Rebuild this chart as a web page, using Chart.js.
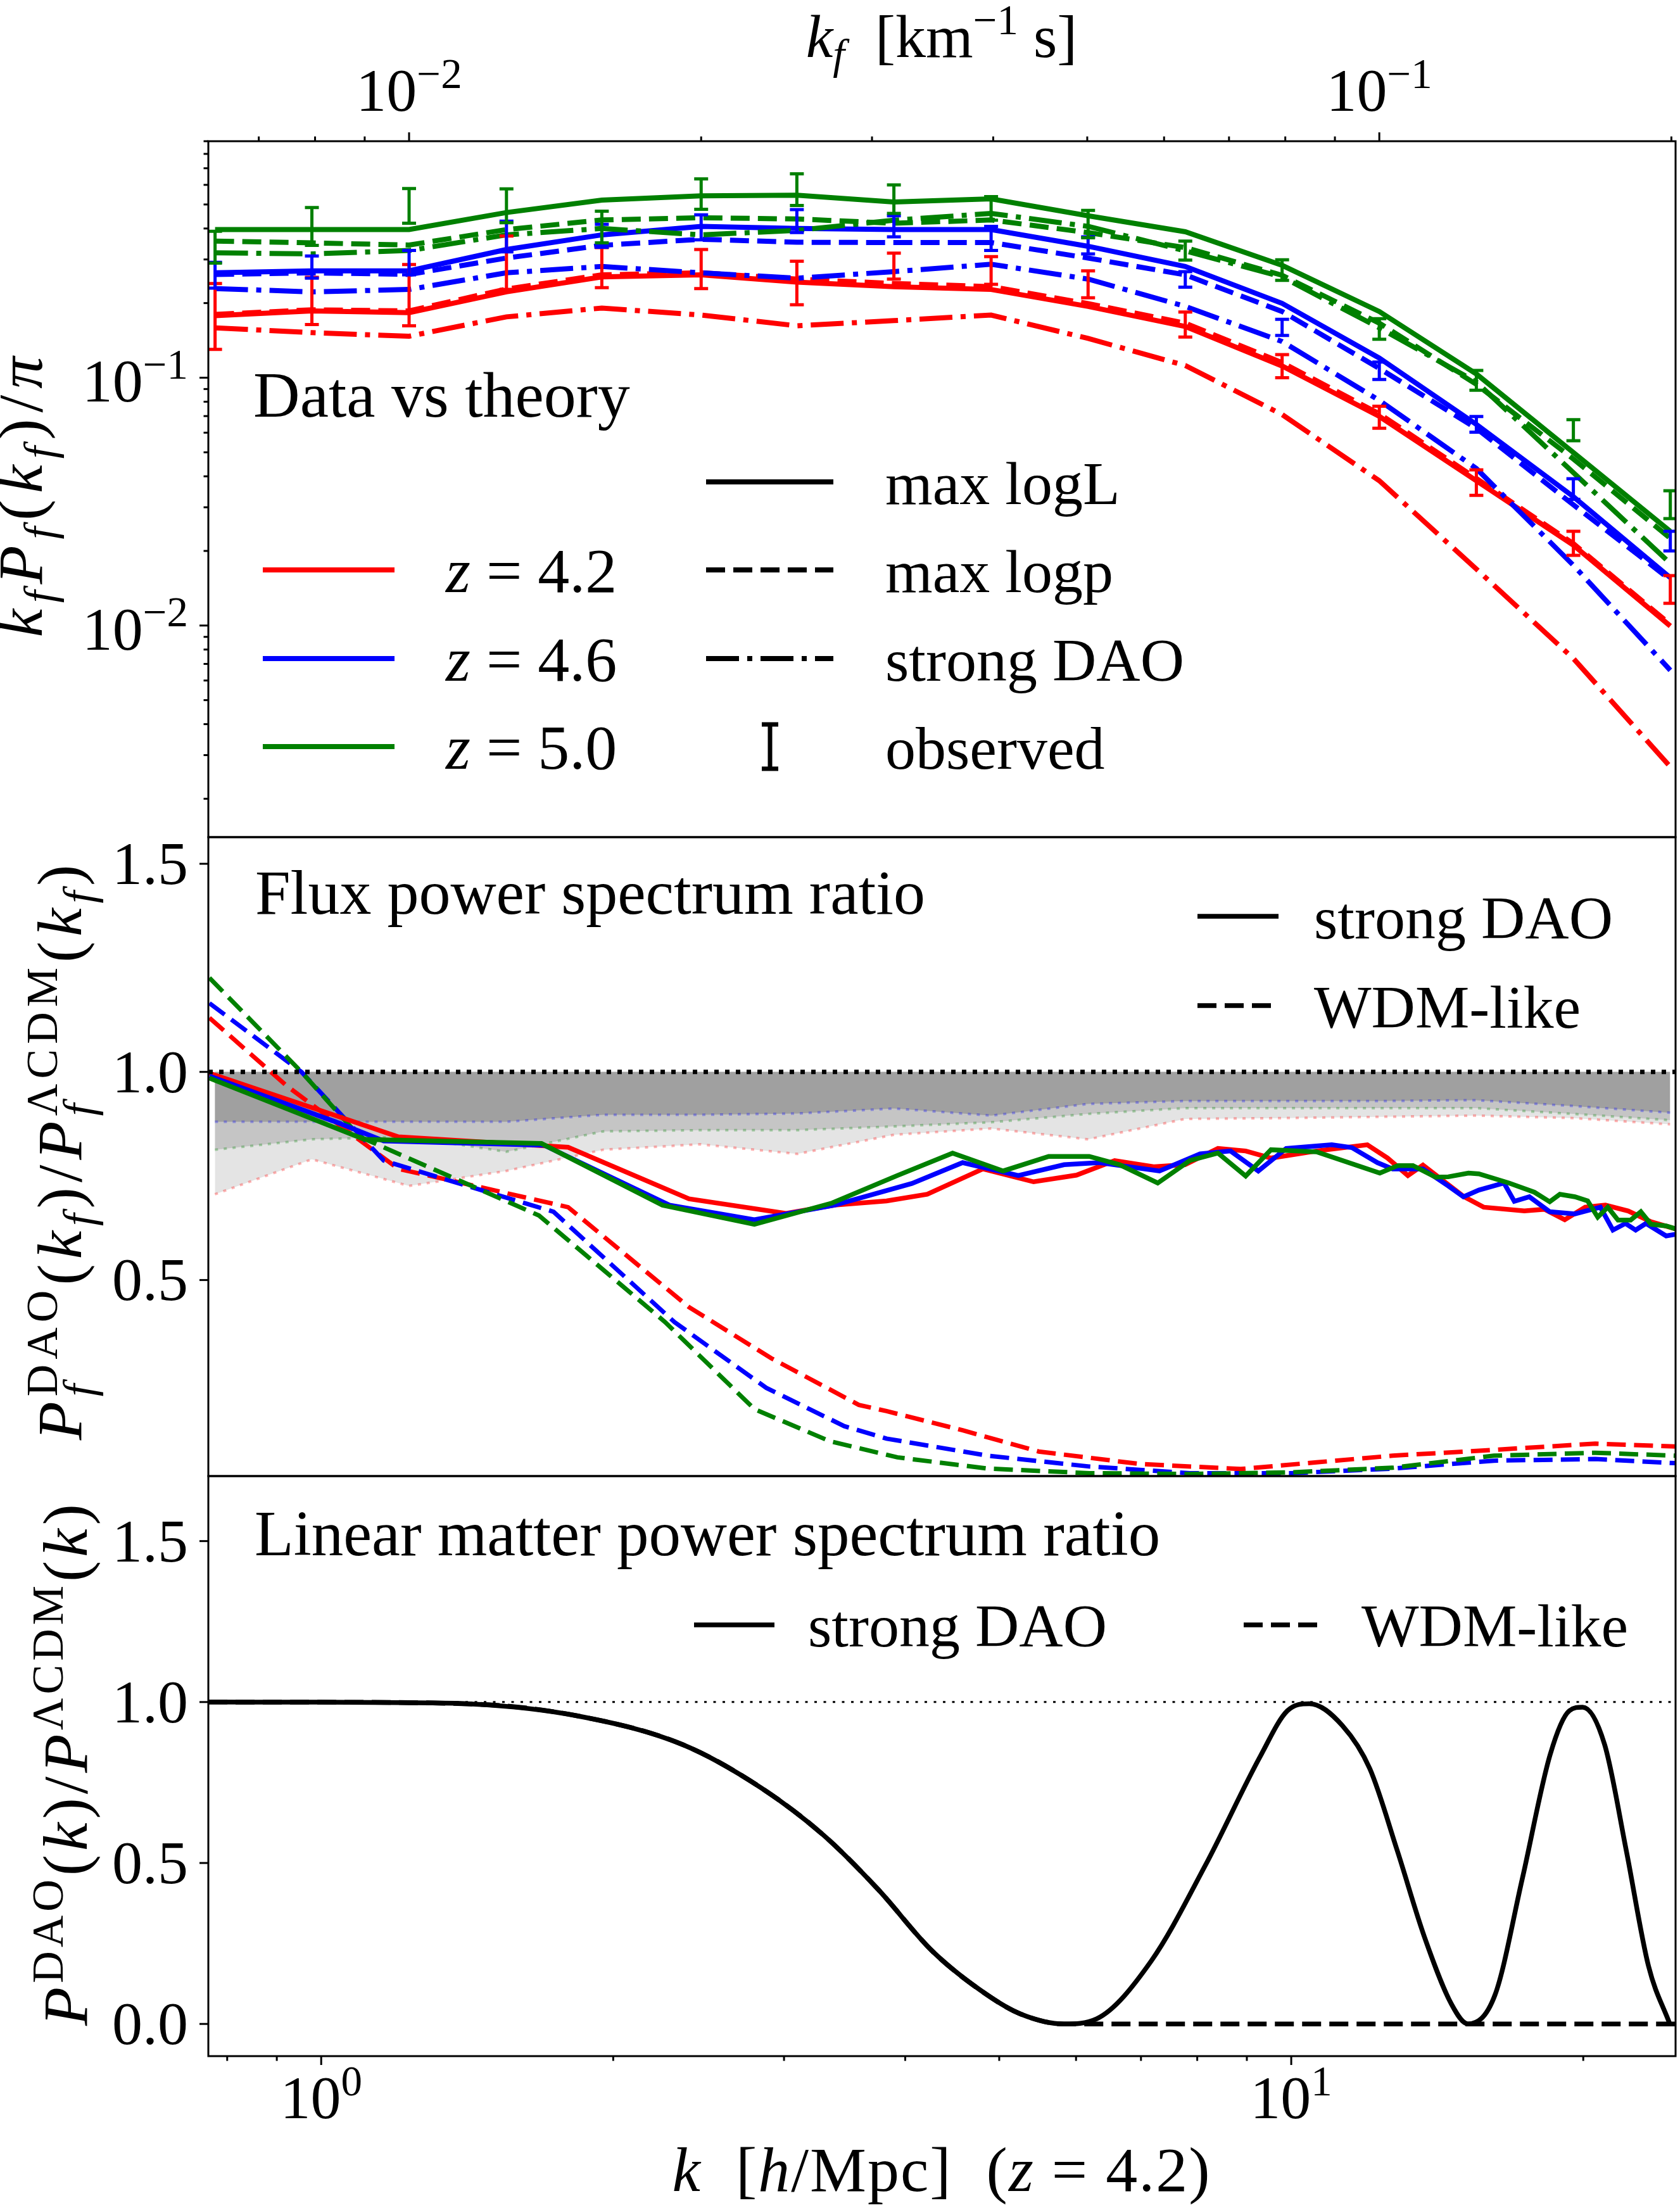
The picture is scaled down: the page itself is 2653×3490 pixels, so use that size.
<!DOCTYPE html>
<html>
<head>
<meta charset="utf-8">
<script src="https://cdn.jsdelivr.net/npm/chart.js@4.4.1/dist/chart.umd.min.js"></script>
<style>
  html, body { margin: 0; padding: 0; background: #fff; }
  #page { position: relative; width: 2653px; height: 3490px; overflow: hidden; background: #fff; }
  canvas { position: absolute; left: 0; }
</style>
</head>
<body>
<div id="page">
  <canvas id="top" width="2653" height="1330" style="top:0px;width:2653px;height:1330px"></canvas>
  <canvas id="mid" width="2653" height="1050" style="top:1300px;width:2653px;height:1050px"></canvas>
  <canvas id="bot" width="2653" height="1190" style="top:2300px;width:2653px;height:1190px"></canvas>
</div>
<script>
// ---- top panel: flux power, k_f bins in km^-1 s ----
const kfBins = [0.00631, 0.00794, 0.0100, 0.0126, 0.0158, 0.0200, 0.0251, 0.0316, 0.0398, 0.0501, 0.0631, 0.0794, 0.1000, 0.1259, 0.1585, 0.1995]

const redLogL   = [0.178, 0.186, 0.183, 0.222, 0.255, 0.260, 0.243, 0.233, 0.227, 0.194, 0.161, 0.1115, 0.0698, 0.0384, 0.0211, 0.00995]
const redLogP   = [0.180, 0.188, 0.186, 0.228, 0.260, 0.265, 0.250, 0.240, 0.233, 0.199, 0.166, 0.115, 0.0715, 0.0392, 0.0214, 0.0101]
const redDAO    = [0.159, 0.152, 0.147, 0.176, 0.191, 0.179, 0.162, 0.170, 0.179, 0.144, 0.112, 0.071, 0.0384, 0.0169, 0.00736, 0.00269]
const blueLogL  = [0.265, 0.270, 0.270, 0.329, 0.377, 0.408, 0.400, 0.396, 0.396, 0.339, 0.281, 0.1995, 0.120, 0.0648, 0.0331, 0.0156]
const blueLogP  = [0.261, 0.265, 0.261, 0.304, 0.342, 0.362, 0.352, 0.351, 0.351, 0.304, 0.260, 0.185, 0.109, 0.0625, 0.0307, 0.0153]
const blueDAO   = [0.229, 0.222, 0.227, 0.265, 0.281, 0.265, 0.252, 0.268, 0.287, 0.250, 0.194, 0.140, 0.081, 0.043, 0.0175, 0.0066]
const greenLogL = [0.396, 0.396, 0.396, 0.464, 0.521, 0.542, 0.545, 0.512, 0.527, 0.450, 0.388, 0.284, 0.185, 0.1035, 0.0499, 0.024]
const greenLogP = [0.356, 0.350, 0.343, 0.396, 0.433, 0.442, 0.437, 0.420, 0.433, 0.385, 0.335, 0.259, 0.166, 0.094, 0.047, 0.0225]
const greenDAO  = [0.319, 0.316, 0.326, 0.377, 0.400, 0.377, 0.393, 0.432, 0.460, 0.408, 0.325, 0.255, 0.159, 0.096, 0.0414, 0.0178]

// observed points and 1-sigma errors
const redObs   = [0.185, 0.209, 0.224, 0.300, 0.283, 0.279, 0.246, 0.284, 0.273, 0.240, 0.165, 0.112, 0.0696, 0.038, 0.0216, 0.0141]
const redErr   = [0.055, 0.045, 0.062, 0.073, 0.052, 0.050, 0.049, 0.034, 0.035, 0.030, 0.019, 0.012, 0.0071, 0.0045, 0.0024, 0.0018]
const blueObs  = [0.261, 0.281, 0.293, 0.375, 0.376, 0.407, 0.431, 0.410, 0.367, 0.343, 0.250, 0.160, 0.107, 0.065, 0.0357, 0.022]
const blueErr  = [0.031, 0.029, 0.033, 0.053, 0.040, 0.047, 0.046, 0.040, 0.041, 0.027, 0.018, 0.012, 0.0087, 0.0047, 0.0034, 0.002]
const greenObs = [0.340, 0.414, 0.500, 0.500, 0.410, 0.556, 0.580, 0.530, 0.485, 0.420, 0.327, 0.273, 0.158, 0.098, 0.0617, 0.031]
const greenErr = [0.050, 0.072, 0.080, 0.078, 0.060, 0.078, 0.085, 0.070, 0.053, 0.053, 0.029, 0.026, 0.015, 0.009, 0.006, 0.004]

// ---- middle panel: flux power ratio vs k [h/Mpc] ----
const bandK     = [0.777, 0.978, 1.232, 1.551, 1.953, 2.459, 3.096, 3.897, 4.906, 6.176, 7.775, 9.788, 12.32, 15.51, 19.53, 24.58]
const blueBand  = [0.880, 0.880, 0.880, 0.880, 0.897, 0.897, 0.900, 0.912, 0.895, 0.923, 0.930, 0.930, 0.930, 0.932, 0.918, 0.902]
const greenBand = [0.813, 0.838, 0.844, 0.808, 0.857, 0.860, 0.860, 0.869, 0.879, 0.899, 0.913, 0.913, 0.913, 0.913, 0.899, 0.884]
const redBand   = [0.706, 0.790, 0.726, 0.762, 0.813, 0.826, 0.803, 0.849, 0.864, 0.838, 0.887, 0.889, 0.892, 0.895, 0.889, 0.874]

const redDaoK = [0.767, 1.035, 1.201, 1.797, 2.394, 3.014, 3.383, 3.827, 4.215, 4.810, 5.425, 6.006, 6.576, 7.228, 7.77, 8.403, 8.975, 9.531, 10.62, 11.98, 12.57, 13.19, 13.67, 15.05, 15.79, 17.39, 18.24, 19.14, 20.09, 21.08, 22.25, 23.49, 24.9]
const redDaoR = [0.997, 0.895, 0.844, 0.819, 0.695, 0.660, 0.680, 0.690, 0.706, 0.767, 0.736, 0.752, 0.787, 0.772, 0.777, 0.816, 0.810, 0.793, 0.810, 0.825, 0.793, 0.751, 0.776, 0.701, 0.675, 0.666, 0.670, 0.645, 0.675, 0.680, 0.666, 0.640, 0.623]
const blueDaoK = [0.767, 1.035, 1.160, 1.697, 2.286, 2.796, 3.383, 4.064, 4.584, 5.232, 5.832, 6.342, 7.315, 8.054, 8.658, 9.248, 9.881, 11.01, 11.55, 12.27, 12.72, 13.67, 14.52, 15.05, 15.61, 16.57, 16.98, 17.60, 18.47, 19.61, 20.83, 21.46, 22.11, 22.65, 23.21, 24.35, 24.9]
const blueDaoR = [0.990, 0.880, 0.834, 0.824, 0.680, 0.645, 0.680, 0.732, 0.782, 0.751, 0.777, 0.782, 0.762, 0.803, 0.810, 0.762, 0.816, 0.825, 0.818, 0.782, 0.767, 0.767, 0.726, 0.700, 0.716, 0.733, 0.689, 0.700, 0.664, 0.659, 0.675, 0.620, 0.636, 0.620, 0.636, 0.606, 0.610]
const greenDaoK = [0.767, 1.108, 1.687, 2.248, 2.796, 3.363, 3.926, 4.476, 5.047, 5.623, 6.191, 6.655, 7.284, 7.862, 8.403, 8.975, 9.531, 10.62, 12.34, 12.88, 13.35, 14.09, 14.52, 15.23, 15.61, 16.77, 17.81, 18.47, 18.92, 19.61, 20.21, 20.70, 21.20, 21.72, 22.38, 22.93, 23.49, 24.35, 24.9]
const greenDaoR = [0.985, 0.838, 0.828, 0.680, 0.634, 0.685, 0.751, 0.805, 0.762, 0.797, 0.797, 0.777, 0.733, 0.787, 0.805, 0.750, 0.813, 0.808, 0.757, 0.775, 0.775, 0.747, 0.748, 0.757, 0.755, 0.733, 0.711, 0.688, 0.706, 0.700, 0.690, 0.651, 0.675, 0.644, 0.644, 0.664, 0.634, 0.630, 0.623]

const redWdmK = [0.767, 0.922, 1.201, 1.379, 1.797, 2.394, 2.911, 3.583, 3.827, 4.584, 5.491, 6.982, 8.868, 10.62, 12.72, 16.18, 20.58, 24.9]
const redWdmR = [1.130, 0.966, 0.767, 0.736, 0.675, 0.435, 0.312, 0.200, 0.185, 0.139, 0.088, 0.058, 0.046, 0.062, 0.078, 0.092, 0.107, 0.100]
const blueWdmK = [0.767, 0.954, 1.160, 1.303, 1.736, 2.313, 2.876, 3.461, 3.827, 4.868, 6.191, 7.862, 10.0, 12.72, 16.18, 20.58, 24.9]
const blueWdmR = [1.165, 1.000, 0.787, 0.751, 0.664, 0.399, 0.241, 0.149, 0.119, 0.078, 0.052, 0.036, 0.036, 0.047, 0.066, 0.070, 0.060]
const greenWdmK = [0.767, 0.954, 1.096, 1.677, 2.262, 2.796, 3.343, 3.926, 4.868, 6.191, 7.862, 10.0, 12.72, 16.18, 20.58, 24.9]
const greenWdmR = [1.226, 1.000, 0.844, 0.655, 0.399, 0.190, 0.113, 0.074, 0.047, 0.036, 0.034, 0.038, 0.049, 0.078, 0.085, 0.078]

// ---- bottom panel: linear matter power ratio ----
const linK     = [0.765, 1.0, 1.2, 1.432, 1.838, 2.358, 2.843, 3.296, 3.748, 4.27, 4.86, 5.26, 5.83, 6.30, 7.17, 8.16, 9.29, 9.91, 10.44, 11.29, 12.05, 12.86, 13.72, 14.63, 15.21, 16.22, 17.30, 18.49, 19.35, 19.97, 21.04, 22.15, 23.35, 24.56]
const linDAO   = [1.0, 0.9995, 0.998, 0.994, 0.957, 0.868, 0.733, 0.586, 0.419, 0.225, 0.090, 0.031, 0.0, 0.016, 0.195, 0.494, 0.831, 0.973, 0.995, 0.927, 0.793, 0.539, 0.270, 0.061, 0.0, 0.090, 0.449, 0.837, 0.973, 0.984, 0.868, 0.539, 0.180, 0.0]
const wdmK     = [0.765, 1.0, 1.432, 1.838, 2.358, 2.843, 3.296, 3.748, 4.27, 4.86, 5.26, 5.83, 24.9]
const linWDM   = [1.0, 0.9995, 0.994, 0.957, 0.868, 0.733, 0.586, 0.419, 0.225, 0.090, 0.031, 0.0, 0.0]

const refK   = [0.765, 24.9]
const refOne = [1, 1]

// axis limits and ticks
const kMin = 0.765, kMax = 24.9
const kfMin = 0.00621, kfMax = 0.202
const pMin = 0.0014, pMax = 0.9
const kfMajor = [0.01, 0.1]
const kfMinor = [0.007, 0.008, 0.009, 0.02, 0.03, 0.04, 0.05, 0.06, 0.07, 0.08, 0.09, 0.2]
const kMajor = [1, 10]
const kMinor = [0.8, 0.9, 2, 3, 4, 5, 6, 7, 8, 9, 20]
const pMajor = [0.01, 0.1]
const pMinor = [0.002, 0.003, 0.004, 0.005, 0.006, 0.007, 0.008, 0.009, 0.02, 0.03, 0.04, 0.05, 0.06, 0.07, 0.08, 0.09, 0.2, 0.3, 0.4, 0.5, 0.6, 0.7, 0.8, 0.9]
const midTicks = [0.5, 1.0, 1.5]
const botTicks = [0.0, 0.5, 1.0, 1.5]

const RED = '#ff0000', BLUE = '#0000ff', GREEN = '#008000'
const FONT = '"Liberation Serif", serif'
const FS = 96        // tick labels, legend
const FS_NOTE = 100  // panel notes, axis titles
const DASH = [30, 13], DASHDOT = [52, 13, 8, 13]

function setFont(ctx, size, italic) {
    ctx.font = (italic ? 'italic ' : '') + size + 'px ' + FONT
}

// parts: [text, flags]  flags: i italic, ^ sup, _ sub, s stacked on previous
function richText(ctx, parts, x, y, size, align, spacing) {
    const run = (draw, x0) => {
        let cx = x0, start = x0, wPrev = 0
        for (const [t, f = ''] of parts) {
            const small = f.includes('^') || f.includes('_')
            setFont(ctx, small ? Math.round(size * 0.7) : size, f.includes('i'))
            const w = ctx.measureText(t).width
            const dy = f.includes('^') ? -0.38 * size : f.includes('_') ? 0.2 * size : 0
            if (f.includes('s')) {
                if (draw) ctx.fillText(t, start, y + dy)
                wPrev = Math.max(wPrev, w)
                cx = start + wPrev
            } else {
                if (draw) ctx.fillText(t, cx, y + dy)
                start = cx; wPrev = w; cx += w
            }
        }
        return cx - x0
    }
    ctx.textAlign = 'left'
    ctx.textBaseline = 'alphabetic'
    ctx.letterSpacing = (spacing || 0) + 'px'
    const w = run(false, 0)
    const x0 = align === 'center' ? x - w / 2 : align === 'right' ? x - w : x
    run(true, x0)
    ctx.letterSpacing = '0px'
}

function makeDecor(spec) {
    return {
        id: 'decor',
        afterDraw(chart) {
            const ctx = chart.ctx, a = chart.chartArea
            const xs = chart.scales.x, ys = chart.scales.y
            const oy = spec.top
            ctx.save()
            ctx.fillStyle = '#000'
            ctx.strokeStyle = '#000'
            ctx.lineCap = 'butt'
            ctx.lineWidth = 3
            const seg = (x0, y0, x1, y1) => { ctx.beginPath(); ctx.moveTo(x0, y0); ctx.lineTo(x1, y1); ctx.stroke() }

            if (spec.xTicks) {
                const t = spec.xTicks
                const edge = t.side === 'top' ? a.top : a.bottom
                const dir = t.side === 'top' ? -1 : 1
                t.minor.forEach(v => { const p = xs.getPixelForValue(v); seg(p, edge, p, edge + dir * 7.5) })
                t.major.forEach((v, i) => {
                    const p = xs.getPixelForValue(v)
                    seg(p, edge, p, edge + dir * 14)
                    richText(ctx, t.labels[i], p, t.base - oy, FS, 'center')
                })
            }
            if (spec.yTicks) {
                const t = spec.yTicks
                ;(t.minor || []).forEach(v => { const p = ys.getPixelForValue(v); seg(a.left, p, a.left - 7.5, p) })
                t.major.forEach((v, i) => {
                    const p = ys.getPixelForValue(v)
                    seg(a.left, p, a.left - 14, p)
                    richText(ctx, t.labels[i], a.left - 32, p + t.shift, FS, 'right')
                })
            }
            // axis titles
            if (spec.xTitle) {
                const t = spec.xTitle
                richText(ctx, t.parts, t.x, t.y - oy, t.size || FS, 'center', t.ls)
            }
            if (spec.yTitle) {
                const t = spec.yTitle
                ctx.save()
                ctx.translate(t.x, t.y - oy)
                ctx.rotate(-Math.PI / 2)
                richText(ctx, t.parts, 0, 0, FS_NOTE, 'center', t.ls)
                ctx.restore()
            }
            // legend handles
            ;(spec.lines || []).forEach(l => {
                ctx.strokeStyle = l.color
                ctx.lineWidth = l.lw
                ctx.setLineDash(l.dash || [])
                seg(l.x0, l.y - oy, l.x1, l.y - oy)
            })
            ctx.setLineDash([])
            ;(spec.ebars || []).forEach(b => {
                ctx.strokeStyle = '#000'
                ctx.lineWidth = 7
                seg(b.x, b.y0 - oy, b.x, b.y1 - oy)
                seg(b.x - 13, b.y0 - oy, b.x + 13, b.y0 - oy)
                seg(b.x - 13, b.y1 - oy, b.x + 13, b.y1 - oy)
            })
            ctx.fillStyle = '#000'
            ;(spec.texts || []).forEach(t => richText(ctx, t.parts, t.x, t.y - oy, t.size || FS, 'left'))
            // frame
            ctx.strokeStyle = '#000'
            ctx.lineWidth = 3
            ctx.strokeRect(a.left, a.top, a.right - a.left, a.bottom - a.top)
            ctx.restore()
        }
    }
}

const obsSets = [
    { val: redObs, err: redErr, color: RED },
    { val: blueObs, err: blueErr, color: BLUE },
    { val: greenObs, err: greenErr, color: GREEN }
]

const errorBars = {
    id: 'errorBars',
    afterDatasetsDraw(chart) {
        const ctx = chart.ctx, a = chart.chartArea
        const xs = chart.scales.x, ys = chart.scales.y
        ctx.save()
        ctx.beginPath()
        ctx.rect(a.left, a.top, a.right - a.left, a.bottom - a.top)
        ctx.clip()
        ctx.lineWidth = 5
        ctx.lineCap = 'butt'
        obsSets.forEach(o => {
            ctx.strokeStyle = o.color
            kfBins.forEach((k, i) => {
                const x = xs.getPixelForValue(k)
                const yHi = ys.getPixelForValue(o.val[i] + o.err[i])
                const yLo = ys.getPixelForValue(o.val[i] - o.err[i])
                ctx.beginPath()
                ctx.moveTo(x, yLo); ctx.lineTo(x, yHi)
                ctx.moveTo(x - 11, yLo); ctx.lineTo(x + 11, yLo)
                ctx.moveTo(x - 11, yHi); ctx.lineTo(x + 11, yHi)
                ctx.stroke()
            })
        })
        ctx.restore()
    }
}

function series(xv, yv, color, width, dash, order, extra) {
    return Object.assign({
        data: xv.map((x, i) => ({ x: x, y: yv[i] })),
        borderColor: color, borderWidth: width, borderDash: dash || [],
        pointRadius: 0, pointHoverRadius: 0, tension: 0, fill: false, order: order
    }, extra || {})
}

function makeChart(id, pad, xScale, yScale, datasets, plugins) {
    return new Chart(document.getElementById(id), {
        type: 'line',
        data: { datasets: datasets },
        options: {
            responsive: false, animation: false, devicePixelRatio: 1, events: [],
            layout: { padding: pad, autoPadding: false },
            plugins: { legend: { display: false }, tooltip: { enabled: false } },
            scales: { x: xScale, y: yScale }
        },
        plugins: plugins
    })
}

const sup = s => [['10'], [s, '^']]

// top panel
makeChart('top', { left: 329, right: 7, top: 223, bottom: 8 },
    { type: 'logarithmic', min: kfMin, max: kfMax, display: false, bounds: 'data' },
    { type: 'logarithmic', min: pMin, max: pMax, display: false, bounds: 'data' },
    [
        series(kfBins, greenLogL, GREEN, 8, [], 1),
        series(kfBins, greenLogP, GREEN, 8, DASH, 2),
        series(kfBins, greenDAO, GREEN, 8, DASHDOT, 3),
        series(kfBins, blueLogL, BLUE, 8, [], 4),
        series(kfBins, blueLogP, BLUE, 8, DASH, 5),
        series(kfBins, blueDAO, BLUE, 8, DASHDOT, 6),
        series(kfBins, redLogL, RED, 8, [], 7),
        series(kfBins, redLogP, RED, 8, DASH, 8),
        series(kfBins, redDAO, RED, 8, DASHDOT, 9)
    ],
    [errorBars, makeDecor({
        top: 0,
        xTicks: { side: 'top', major: kfMajor, minor: kfMinor, labels: [sup('−2'), sup('−1')], base: 175 },
        yTicks: { major: pMajor, minor: pMinor, labels: [sup('−2'), sup('−1')], shift: 38 },
        xTitle: { parts: [['k', 'i'], ['f', 'i_'], ['  [km'], ['−1', '^'], [' s]']], x: 1487, y: 90 },
        yTitle: { parts: [['k', 'i'], ['f', 'i_'], ['P', 'i'], ['f', 'i_'], ['('], ['k', 'i'], ['f', 'i_'], [')/'], ['π', 'i']], x: 66, y: 780, ls: 10 },
        lines: [
            { x0: 415, x1: 623, y: 900, color: RED, lw: 8 },
            { x0: 415, x1: 623, y: 1040, color: BLUE, lw: 8 },
            { x0: 415, x1: 623, y: 1179, color: GREEN, lw: 8 },
            { x0: 1115, x1: 1316, y: 761, color: '#000', lw: 8 },
            { x0: 1115, x1: 1316, y: 900, color: '#000', lw: 8, dash: DASH },
            { x0: 1115, x1: 1316, y: 1040, color: '#000', lw: 8, dash: DASHDOT }
        ],
        ebars: [{ x: 1216, y0: 1144, y1: 1214 }],
        texts: [
            { parts: [['Data vs theory']], x: 400, y: 658, size: FS_NOTE + 2 },
            { parts: [['z', 'i'], [' = 4.2']], x: 704, y: 935, size: 100 },
            { parts: [['z', 'i'], [' = 4.6']], x: 704, y: 1075, size: 100 },
            { parts: [['z', 'i'], [' = 5.0']], x: 704, y: 1214, size: 100 },
            { parts: [['max logL']], x: 1398, y: 796 },
            { parts: [['max logp']], x: 1398, y: 935 },
            { parts: [['strong DAO']], x: 1398, y: 1075 },
            { parts: [['observed']], x: 1398, y: 1214 }
        ]
    })])

// middle panel
const bandStyle = (line, fillColor) => ({ fill: { value: 1 }, backgroundColor: fillColor, borderColor: line })
makeChart('mid', { left: 329, right: 7, top: 22, bottom: 19 },
    { type: 'logarithmic', min: kMin, max: kMax, display: false, bounds: 'data' },
    { type: 'linear', min: 0.029, max: 1.564, display: false, bounds: 'data' },
    [
        series(refK, refOne, '#000', 7, [7, 10], 0),
        series(greenDaoK, greenDaoR, GREEN, 7.5, [], 1),
        series(blueDaoK, blueDaoR, BLUE, 7.5, [], 2),
        series(redDaoK, redDaoR, RED, 7.5, [], 3),
        series(greenWdmK, greenWdmR, GREEN, 7, DASH, 4),
        series(blueWdmK, blueWdmR, BLUE, 7, DASH, 5),
        series(redWdmK, redWdmR, RED, 7, DASH, 6),
        series(bandK, blueBand, BLUE, 4, [5, 9], 20, bandStyle('rgba(0,0,255,0.3)', '#a0a0a0')),
        series(bandK, greenBand, GREEN, 4, [5, 9], 21, bandStyle('rgba(0,128,0,0.3)', '#c5c5c5')),
        series(bandK, redBand, RED, 4, [5, 9], 22, bandStyle('rgba(255,0,0,0.3)', '#e4e4e4'))
    ],
    [makeDecor({
        top: 1300,
        yTicks: { major: midTicks, labels: [[['0.5']], [['1.0']], [['1.5']]], shift: 32 },
        yTitle: { parts: [['P', 'i'], ['f', 'i_'], ['DAO', '^s'], ['('], ['k', 'i'], ['f', 'i_'], [')/'], ['P', 'i'], ['f', 'i_'], ['ΛCDM', '^s'], ['('], ['k', 'i'], ['f', 'i_'], [')']], x: 128, y: 1816, ls: 8 },
        lines: [
            { x0: 1891, x1: 2019, y: 1447, color: '#000', lw: 7.5 },
            { x0: 1891, x1: 2019, y: 1588, color: '#000', lw: 7.5, dash: DASH }
        ],
        texts: [
            { parts: [['Flux power spectrum ratio']], x: 403, y: 1443, size: FS_NOTE },
            { parts: [['strong DAO']], x: 2075, y: 1482 },
            { parts: [['WDM-like']], x: 2075, y: 1623 }
        ]
    })])

// bottom panel
makeChart('bot', { left: 329, right: 7, top: 31, bottom: 243 },
    { type: 'logarithmic', min: kMin, max: kMax, display: false, bounds: 'data' },
    { type: 'linear', min: -0.1, max: 1.702, display: false, bounds: 'data' },
    [
        series(linK, linDAO, '#000', 7.5, [], 1, { cubicInterpolationMode: 'monotone' }),
        series(wdmK, linWDM, '#000', 7.5, DASH, 2, { cubicInterpolationMode: 'monotone' }),
        series(refK, refOne, '#000', 3, [4, 10.5], 3)
    ],
    [makeDecor({
        top: 2300,
        xTicks: { side: 'bottom', major: kMajor, minor: kMinor, labels: [sup('0'), sup('1')], base: 3345 },
        yTicks: { major: botTicks, labels: [[['0.0']], [['0.5']], [['1.0']], [['1.5']]], shift: 32 },
        xTitle: { parts: [['k', 'i'], ['  ['], ['h', 'i'], ['/Mpc]  ('], ['z', 'i'], [' = 4.2)']], x: 1487, y: 3460, size: FS_NOTE, ls: 2 },
        yTitle: { parts: [['P', 'i'], ['DAO', '^'], ['('], ['k', 'i'], [')/'], ['P', 'i'], ['ΛCDM', '^'], ['('], ['k', 'i'], [')']], x: 137, y: 2784, ls: 6 },
        lines: [
            { x0: 1096, x1: 1223, y: 2566, color: '#000', lw: 7.5 },
            { x0: 1964, x1: 2083, y: 2566, color: '#000', lw: 7.5, dash: DASH }
        ],
        texts: [
            { parts: [['Linear matter power spectrum ratio']], x: 402, y: 2456, size: FS_NOTE + 1 },
            { parts: [['strong DAO']], x: 1276, y: 2600 },
            { parts: [['WDM-like']], x: 2150, y: 2600 }
        ]
    })])
</script>
</body>
</html>
